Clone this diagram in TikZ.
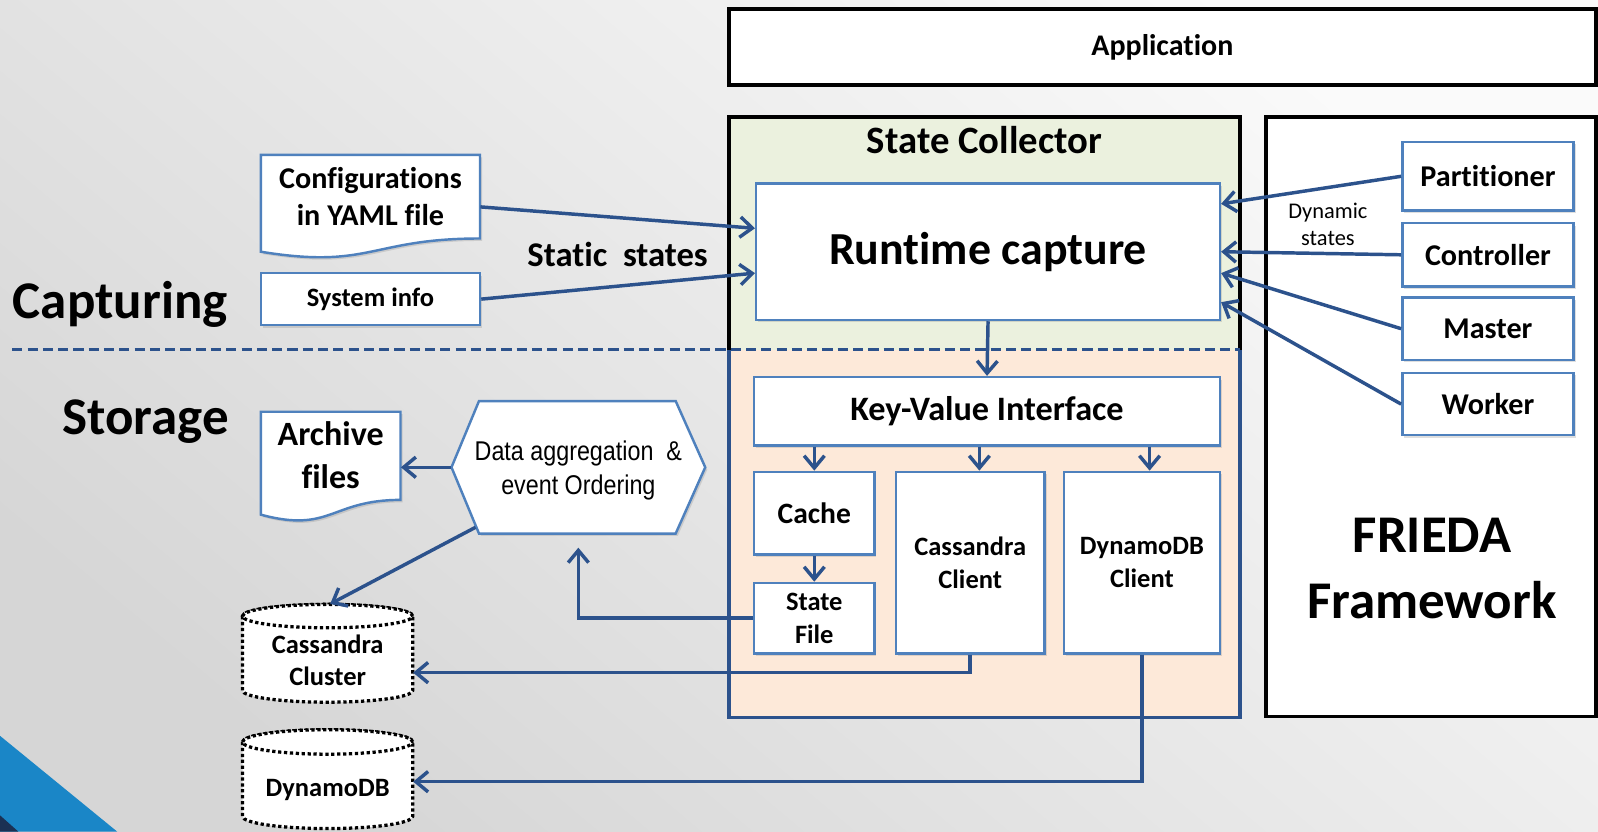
\documentclass[tikz,border=0pt]{standalone}
\usepackage{fontspec}
\setmainfont{Carlito}[Ligatures=NoCommon]
\newfontfamily\narrowfont[FakeStretch=0.86]{Liberation Sans}
\usetikzlibrary{arrows.meta,calc,shadows}
\definecolor{conn}{HTML}{2C528C}
\definecolor{nb}{HTML}{4F81BD}
\definecolor{scgreen}{HTML}{EBF1DE}
\definecolor{stpeach}{HTML}{FDE9D9}
\definecolor{tri}{HTML}{1A86C7}
\newcommand\myfs[2]{\fontsize{#1}{#2}\selectfont}
\begin{document}
\begin{tikzpicture}[x=0.5pt,y=-0.5pt,
  shd/.style={drop shadow={shadow xshift=1pt,shadow yshift=-1.2pt,opacity=0.25}},
  bx/.style={draw=nb,line width=1.2pt,fill=white,inner sep=0pt,align=center,shd},
  blk/.style={draw=black,line width=1.9pt,fill=white,inner sep=0pt,align=center},
  txt/.style={inner sep=0pt,align=center},
  arr/.style={draw=conn,line width=1.7pt,-{Straight Barb[length=6pt,width=10pt]}},
  dotcyl/.style={draw=black,fill=white,line width=1.6pt,dash pattern=on 1.6pt off 1.3pt},
  docshape/.style={draw=nb,line width=1.2pt,fill=white,shd}]
\useasboundingbox (0,0) rectangle (1568,816);
\begin{scope}
\clip (0,0) rectangle (1568,816);
\shade[top color=gray!4,bottom color=gray!32,shading angle=-40] (0,0) rectangle (1568,816);
\fill[tri] (0,722) -- (115,816) -- (0,816) -- cycle;
\fill[conn!60!black] (0,800) -- (18,816) -- (0,816) -- cycle;

% Application
\node[blk,minimum width=425.5pt,minimum height=37pt,font=\bfseries\myfs{14.7}{18}] (app) at (1140.5,46) {Application};

% State collector container
\fill[scgreen] (715,115) rectangle (1217,343);
\fill[stpeach] (715,343) rectangle (1217,704);
\draw[black,line width=1.9pt] (715,343) -- (715,115) -- (1217,115) -- (1217,343);
\draw[conn,line width=1.9pt] (715,343) -- (715,704) -- (1217,704) -- (1217,343);
\draw[conn,line width=1.8pt,dash pattern=on 5pt off 2.5pt] (12,343) -- (1217,343);
\node[txt,font=\bfseries\myfs{19}{23}] (sctitle) at (966,137) {State Collector};

\node[bx,minimum width=227.5pt,minimum height=67pt,font=\bfseries\myfs{22.5}{27}] (rt) at (969.5,247) {Runtime capture};
\node[bx,minimum width=228.5pt,minimum height=33.5pt,font=\bfseries\myfs{16.8}{20}] (kv) at (968.5,403.5) {Key-Value Interface};
\node[bx,minimum width=59pt,minimum height=40.5pt,font=\bfseries\myfs{14.5}{17}] (cache) at (799,503.5) {Cache};
\node[bx,minimum width=59pt,minimum height=34.5pt,font=\bfseries\myfs{13}{16}] (sf) at (799,606.5) {State\\File};
\node[bx,minimum width=73pt,minimum height=89pt,font=\bfseries\myfs{13}{16}] (cc) at (952,552) {Cassandra\\Client};
\node[bx,minimum width=76.5pt,minimum height=89pt,font=\bfseries\myfs{13}{16}] (dc) at (1120.5,552) {DynamoDB\\Client};

% FRIEDA
\node[blk,minimum width=162pt,minimum height=294pt] (fr) at (1404,409) {};
\node[txt,font=\bfseries\myfs{26}{32.5}] (frtxt) at (1405,558) {FRIEDA\\Framework};
\node[bx,minimum width=84pt,minimum height=33.75pt,font=\bfseries\myfs{14.8}{18}] (part) at (1460,173) {Partitioner};
\node[bx,minimum width=84pt,minimum height=31pt,font=\bfseries\myfs{14.8}{18}] (ctrl) at (1460,250) {Controller};
\node[bx,minimum width=84pt,minimum height=30.5pt,font=\bfseries\myfs{14.8}{18}] (master) at (1460,322.5) {Master};
\node[bx,minimum width=84pt,minimum height=30.5pt,font=\bfseries\myfs{14.8}{18}] (worker) at (1460,396.5) {Worker};
\node[txt,font=\myfs{11}{13}] (dyn) at (1303,220) {Dynamic\\states};

% Left side
\node[txt,font=\bfseries\myfs{26}{31}] (capt) at (118,299) {Capturing};
\node[txt,font=\bfseries\myfs{26}{31}] (stor) at (143,414) {Storage};
\path[docshape] (256,152) -- (471,152) -- (471,234) .. controls (363.5,234) and (363.5,264.5) .. (256,247) -- cycle;
\node[txt,minimum width=107.5pt,minimum height=41pt,font=\bfseries\myfs{14.8}{18}] (cfg) at (363.5,193) {Configurations\\in YAML file};
\node[bx,minimum width=107.5pt,minimum height=25.5pt,font=\bfseries\myfs{13}{16}] (sys) at (363.5,293.5) {System info};
\node[txt,font=\bfseries\myfs{17}{20}] (static) at (606,250) {Static~~states};

\path[docshape] (256,404) -- (393,404) -- (393,490.5) .. controls (324.5,490.5) and (324.5,523.5) .. (256,505) -- cycle;
\node[txt,minimum width=68.5pt,minimum height=43pt,font=\bfseries\myfs{16.7}{21}] (arch) at (324.5,447) {Archive\\files};

\path[docshape] (443,458.5) -- (470,393.5) -- (663,393.5) -- (692,458.5) -- (663,523.5) -- (470,523.5) -- cycle;
\node[txt,minimum width=124.5pt,minimum height=65pt,font=\narrowfont\myfs{13.3}{16.5}] (agg) at (567.5,458.5) {\raisebox{-1.8pt}[\height][\depth]{\begin{tabular}{@{}c@{}}Data aggregation~~\&\\event Ordering\end{tabular}}};

% cylinders
\path[dotcyl] (238,604.5) -- (238,677.5) arc[start angle=180,end angle=360,x radius=41.75pt,y radius=5.75pt] -- (405,604.5) arc[start angle=0,end angle=180,x radius=41.75pt,y radius=5.75pt] -- cycle;
\draw[dotcyl] (321.5,604.5) ellipse [x radius=41.75pt,y radius=5.75pt];
\node[txt,minimum width=83.5pt,minimum height=30pt,font=\bfseries\myfs{13}{16}] (ccl) at (321.5,648) {Cassandra\\Cluster};
\path[dotcyl] (238,728) -- (238,801) arc[start angle=180,end angle=360,x radius=41.75pt,y radius=6pt] -- (405,728) arc[start angle=0,end angle=180,x radius=41.75pt,y radius=6pt] -- cycle;
\draw[dotcyl] (321.5,728) ellipse [x radius=41.75pt,y radius=6pt];
\node[txt,minimum width=83.5pt,minimum height=30pt,font=\bfseries\myfs{13}{16}] (dyndb) at (321.5,775) {DynamoDB};

% connectors
\draw[arr] ([yshift=-5pt]cfg.east) -- ([yshift=11.5pt]rt.west);
\draw[arr] (sys.east) -- ([yshift=-10.5pt]rt.west);
\draw[arr] (part.west) -- ([yshift=23.5pt]rt.east);
\draw[arr] (ctrl.west) -- (rt.east);
\draw[arr] (master.west) -- ([yshift=-10.5pt]rt.east);
\draw[arr] (worker.west) -- ([yshift=-24.75pt]rt.east);
\draw[arr] (rt.south) -- (kv.north);
\coordinate (cin) at ([xshift=4.5pt]cc.north);
\coordinate (dcin) at ([xshift=3.75pt]dc.north);
\draw[arr] (kv.south -| cache.north) -- (cache.north);
\draw[arr] (kv.south -| cin) -- (cin);
\draw[arr] (kv.south -| dcin) -- (dcin);
\draw[arr] (cache.south) -- (sf.north);
\draw[arr] (sf.west) -| ([yshift=-6.75pt]agg.south);
\draw[arr] (agg.west) -- (agg.west -| arch.east);
\draw[arr] ([xshift=12pt,yshift=3.25pt]agg.south west) -- ([xshift=1.25pt,yshift=12.5pt]ccl.north);
\draw[arr] (cc.south) |- ([yshift=-6pt]ccl.east);
\draw[arr] (dc.south) |- ([yshift=4pt]dyndb.east);
\end{scope}
\end{tikzpicture}
\end{document}
